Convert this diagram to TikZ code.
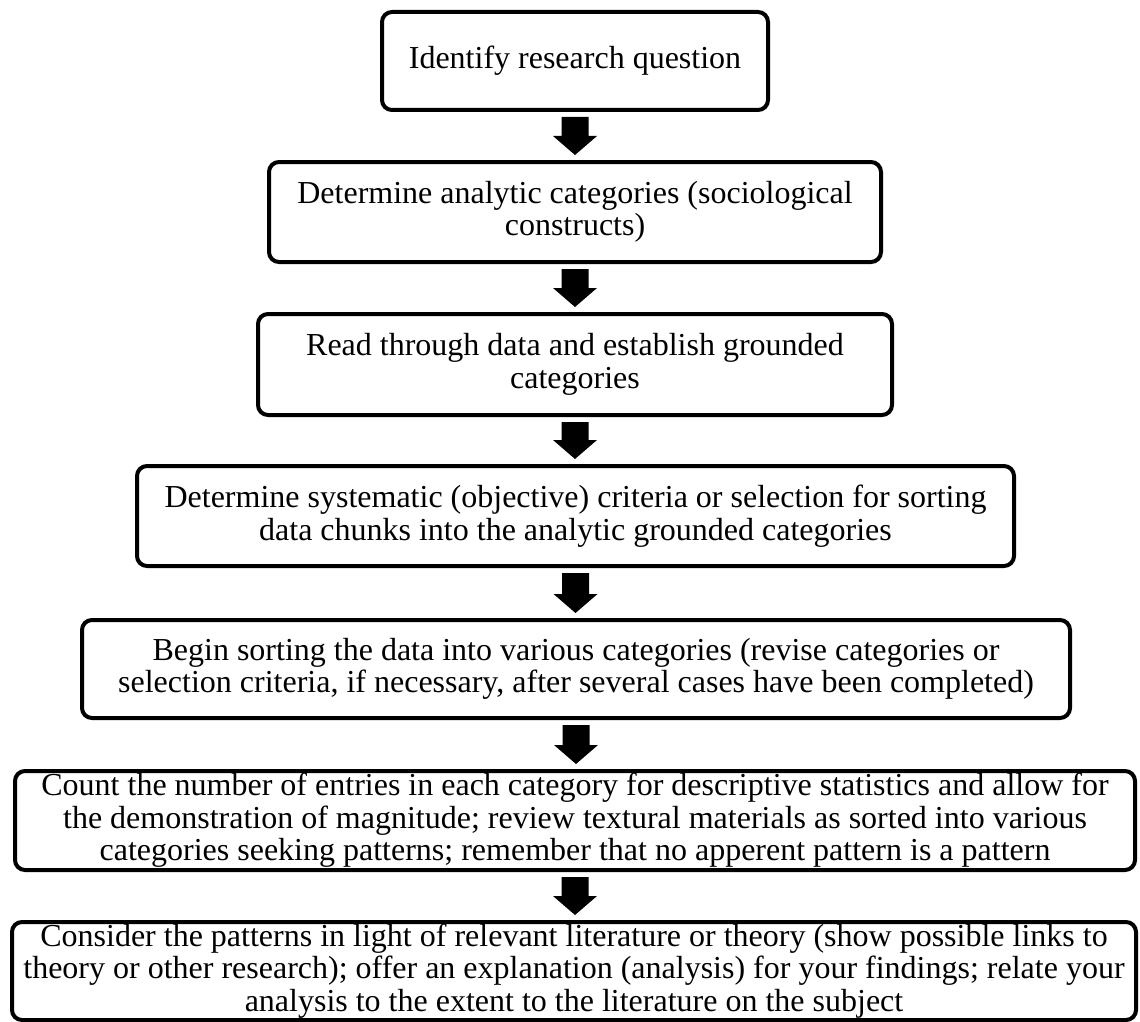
\documentclass[tikz,border=0pt]{standalone}
\usepackage{fontspec}
\setmainfont{Liberation Serif}
\usetikzlibrary{calc}
\tikzset{
  stepbox/.style={draw=black, line width=4pt, rounded corners=10pt, fill=white,
    align=center, inner sep=0pt, font=\fontsize{32}{32.5}\selectfont},
}
\newcommand\blockarr[2]{%
  \fill ($(#1.south)+(-13.5,5)$) -- ($(#1.south)+(13.5,5)$)
     -- ($(#1.south |- #2.north)+(13.5,-24)$) -- ($(#1.south |- #2.north)+(22,-24)$)
     -- ($(#1.south |- #2.north)+(0,-5)$)
     -- ($(#1.south |- #2.north)+(-22,-24)$) -- ($(#1.south |- #2.north)+(-13.5,-24)$) -- cycle;}
\begin{document}
\begin{tikzpicture}[x=1pt,y=-1pt]
\useasboundingbox (0,0) rectangle (1140,1022);
\node[stepbox, minimum width=386pt, minimum height=98pt] (b1) at (575,61) {Identify research question};
\node[stepbox, minimum width=612pt, minimum height=100pt] (b2) at (575,212) {Determine analytic categories (sociological\\constructs)};
\node[stepbox, minimum width=634pt, minimum height=101pt] (b3) at (575,364.5) {Read through data and establish grounded\\categories};
\node[stepbox, minimum width=877pt, minimum height=100pt] (b4) at (575.5,516) {Determine systematic (objective) criteria or selection for sorting\\data chunks into the analytic grounded categories};
\node[stepbox, minimum width=988pt, minimum height=98pt] (b5) at (576,669) {Begin sorting the data into various categories (revise categories or\\selection criteria, if necessary, after several cases have been completed)};
\node[stepbox, minimum width=1120pt, minimum height=99pt] (b6) at (575,820.5) {Count the number of entries in each category for descriptive statistics and allow for\\the demonstration of magnitude; review textural materials as sorted into various\\categories seeking patterns; remember that no apperent pattern is a pattern};
\node[stepbox, minimum width=1124pt, minimum height=98pt] (b7) at (574,971) {Consider the patterns in light of relevant literature or theory (show possible links to\\theory or other research); offer an explanation (analysis) for your findings; relate your\\analysis to the extent to the literature on the subject};
\blockarr{b1}{b2}
\blockarr{b2}{b3}
\blockarr{b3}{b4}
\blockarr{b4}{b5}
\blockarr{b5}{b6}
\blockarr{b6}{b7}
\end{tikzpicture}
\end{document}
